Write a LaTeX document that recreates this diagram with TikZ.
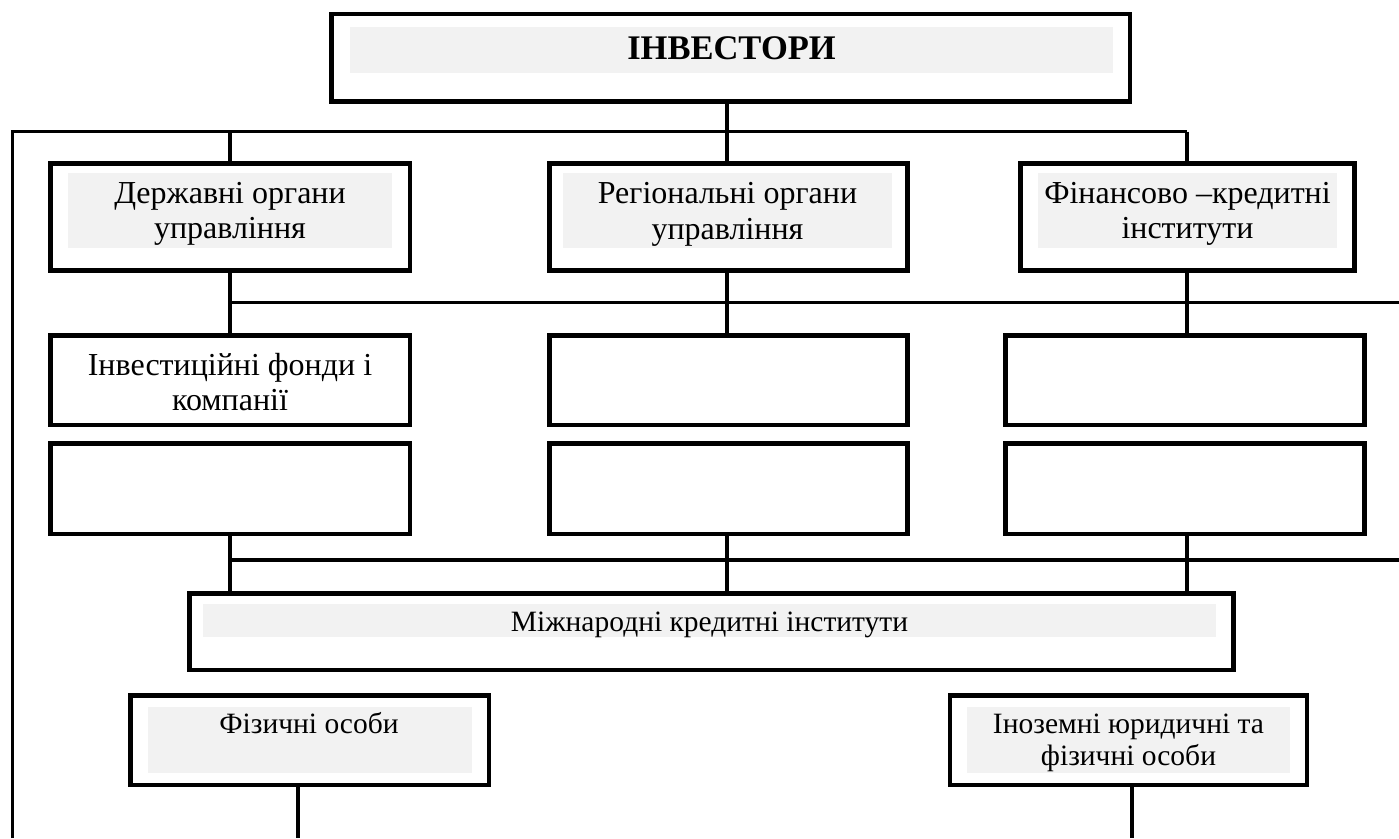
\documentclass[tikz,border=0pt]{standalone}
\usepackage{fontspec}
\setmainfont{Liberation Serif}
\begin{document}
\begin{tikzpicture}[x=1pt,y=-1pt,
  frame/.style={draw=black,line width=4.5pt,fill=white},
  shade/.style={fill=black!5,draw=none},
  link/.style={draw=black,line width=3.2pt},
  lbl/.style={anchor=base,inner sep=0pt,font=\fontsize{32}{38}\selectfont},
  lblsmall/.style={anchor=base,inner sep=0pt,font=\fontsize{29.5}{35}\selectfont},
  title/.style={anchor=base,inner sep=0pt,font=\fontsize{34.5}{40}\selectfont\bfseries}]
\useasboundingbox (0,0) rectangle (1399,838);

% --- boxes (corners at stroke centres) ---
\path[frame] (331.5,14) rectangle (1130,101.5);
\path[shade] (350,27) rectangle (1113,73);

\path[frame] (50.5,163.5) rectangle (410,270.5);
\path[shade] (68,173) rectangle (392,248);
\path[frame] (549.5,163.5) rectangle (907.5,270.5);
\path[shade] (563,173) rectangle (892,248);
\path[frame] (1020.5,163.5) rectangle (1354.5,270.5);
\path[shade] (1038,173) rectangle (1337,248);

\path[frame] (50.5,335.5) rectangle (410,425);
\path[frame] (549.5,335.5) rectangle (907.5,425);
\path[frame] (1005.5,335.5) rectangle (1364.5,425);

\path[frame] (50.5,443.5) rectangle (410,534);
\path[frame] (549.5,443.5) rectangle (907.5,534);
\path[frame] (1005.5,443.5) rectangle (1364.5,534);

\path[frame] (189.5,593.5) rectangle (1233.5,670);
\path[shade] (203,604) rectangle (1216,637);

\path[frame] (130.5,695.5) rectangle (489,785);
\path[shade] (148,707) rectangle (472,773);
\path[frame] (950,695.5) rectangle (1307,785);
\path[shade] (967,707) rectangle (1290,773);

% --- named anchor points on the box edges ---
\coordinate (topB) at (727,101.5);
\coordinate (busA) at (727,131.5);
\coordinate (busL) at (12.5,131.5);
\coordinate (busR) at (1187,131.5);
\coordinate (downL) at (12.5,838);
\foreach \n/\x in {a/230,b/727,c/1187}{
  \coordinate (r1t\n) at (\x,163.5);
  \coordinate (b1\n) at (\x,131.5);
  \coordinate (r1b\n) at (\x,270.5);
  \coordinate (r2t\n) at (\x,335.5);
  \coordinate (r3b\n) at (\x,534);
  \coordinate (mt\n) at (\x,593.5);
}
\coordinate (bus2L) at (230,302.5);
\coordinate (bus2R) at (1399,302.5);
\coordinate (bus3L) at (230,560);
\coordinate (bus3R) at (1399,560);
\coordinate (fizB) at (298,785);
\coordinate (fizE) at (298,838);
\coordinate (inoB) at (1132,785);
\coordinate (inoE) at (1132,838);

% --- connectors ---
\draw[link] (topB) -- (busA);
\draw[link] (downL) -- (busL) -- (busR) -- (b1c);
\foreach \n in {a,b,c}{
  \draw[link] (b1\n) -- (r1t\n);
  \draw[link] (r1b\n) -- (r2t\n);
  \draw[link] (r3b\n) -- (mt\n);
}
\draw[link] (bus2L) -- (bus2R);
\draw[link] (bus3L) -- (bus3R);
\draw[link] (fizB) -- (fizE);
\draw[link] (inoB) -- (inoE);

% --- labels ---
\node[title] (inv) at (731.5,59) {ІНВЕСТОРИ};

\node[lbl] (gov1) at (230,203) {Державні органи};
\node[lbl] (gov2) at (230,238) {управління};
\node[lbl] (reg1) at (727.5,203) {Регіональні органи};
\node[lbl] (reg2) at (727.5,239) {управління};
\node[lbl] (fin1) at (1187.5,203) {Фінансово –кредитні};
\node[lbl] (fin2) at (1187.5,238) {інститути};

\node[lbl] (fund1) at (230,375) {Інвестиційні фонди і};
\node[lbl] (fund2) at (230,410) {компанії};

\node[lblsmall] (intl) at (709.5,631) {Міжнародні кредитні інститути};

\node[lblsmall] (phys) at (309,733) {Фізичні особи};
\node[lblsmall] (for1) at (1128.5,733) {Іноземні юридичні та};
\node[lblsmall] (for2) at (1128.5,765) {фізичні особи};
\end{tikzpicture}
\end{document}
